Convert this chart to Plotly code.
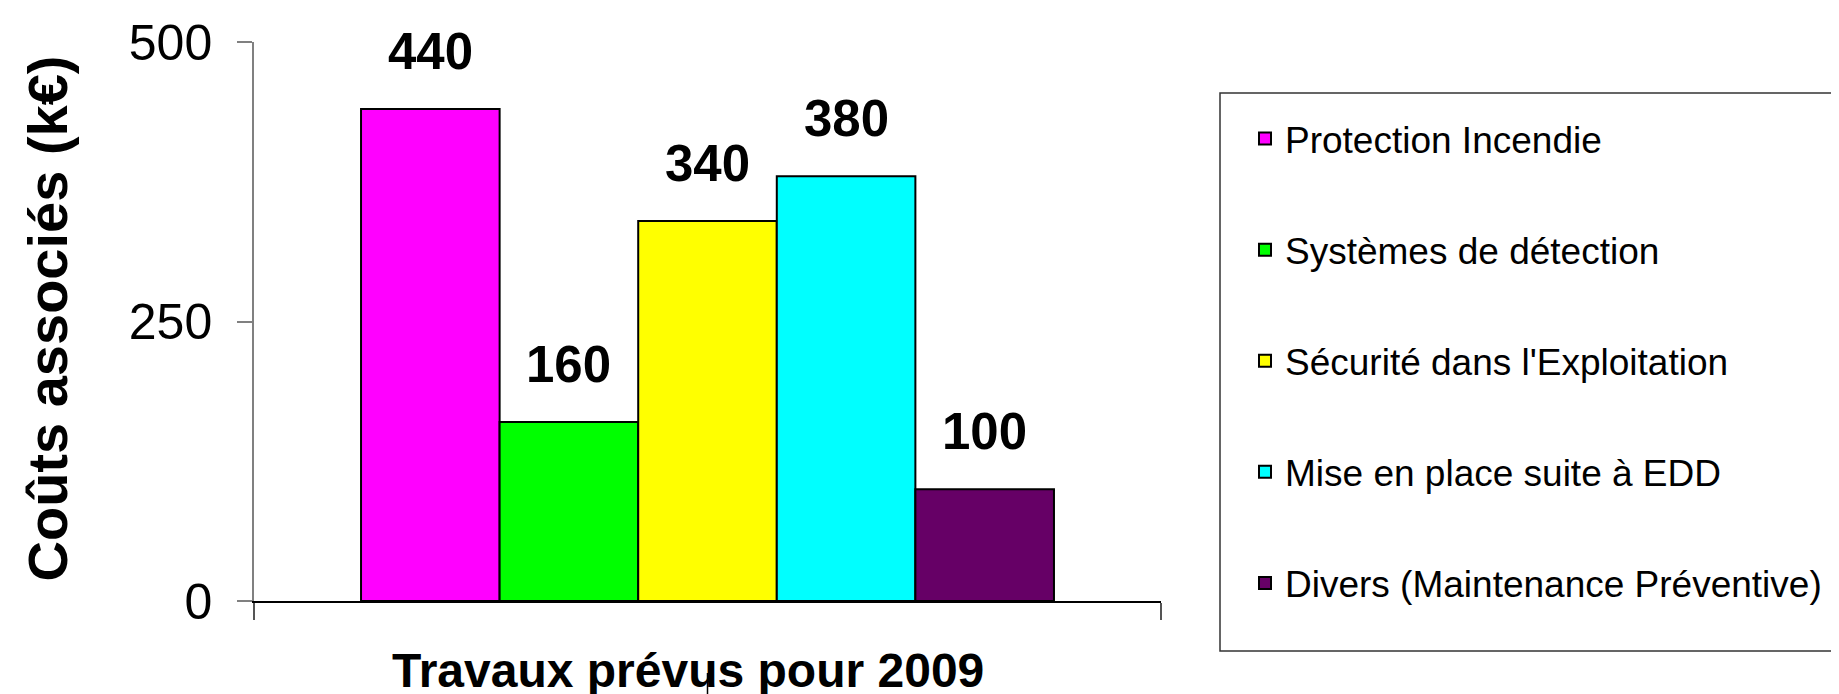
import plotly.graph_objects as go

categories = ["Travaux prévus pour 2009"]
series_names = [
    "Protection Incendie",
    "Systèmes de détection",
    "Sécurité dans l'Exploitation",
    "Mise en place suite à EDD",
    "Divers (Maintenance Préventive)",
]
series_values = [440, 160, 340, 380, 100]
series_colors = ["#FF00FF", "#00FF00", "#FFFF00", "#00FFFF", "#660066"]
y_ticks = [0, 250, 500]
y_title = "Coûts associés (k€)"
x_title = "Travaux prévus pour 2009"

FONT = "Liberation Sans, Arial, sans-serif"
W, H = 1839, 694
ML, MR, MT, MB = 246, 686, 34, 101
PW = W - ML - MR
PH = H - MT - MB
BARGAP = 0.236

fig = go.Figure()
for i, (name, val, col) in enumerate(zip(series_names, series_values, series_colors)):
    fig.add_trace(go.Bar(
        x=categories, y=[val], name=name, legendgroup=name,
        marker=dict(color=col, line=dict(color="black", width=2)),
    ))

# data labels above each bar (centred on each bar of the group)
n = len(series_values)
bw = (1 - BARGAP) / n
annotations = []
for i, val in enumerate(series_values):
    annotations.append(dict(
        x=(i - (n - 1) / 2) * bw, y=val, xref="x", yref="y",
        text=f"<b>{val}</b>", showarrow=False, yanchor="bottom", yshift=27,
        font=dict(family=FONT, size=51, color="black"),
    ))

# axis titles
annotations.append(dict(
    x=0, y=0.5, xref="paper", yref="paper", xshift=-207, yshift=3,
    text=f"<b>{y_title}</b>", textangle=-90, showarrow=False,
    xanchor="center", yanchor="middle",
    font=dict(family=FONT, size=56, color="black"),
))
annotations.append(dict(
    x=0.5, y=0, xref="paper", yref="paper", xshift=-20, yshift=-69,
    text=f"<b>{x_title}</b>", showarrow=False,
    xanchor="center", yanchor="middle",
    font=dict(family=FONT, size=48, color="black"),
))

shapes = [
    # legend frame
    dict(type="rect", xref="paper", yref="paper",
         x0=(1212 - ML) / PW, x1=(1845 - ML) / PW,
         y0=(MT + PH - 643) / PH, y1=(MT + PH - 85) / PH,
         line=dict(color="#333333", width=1.5), fillcolor="rgba(0,0,0,0)"),
    # category centre mark
    dict(type="line", xref="x", yref="paper", x0=0, x1=0,
         y0=(MT + PH - 665) / PH, y1=(MT + PH - 694) / PH,
         line=dict(color="black", width=1.5)),
]

fig.update_layout(
    width=W, height=H,
    margin=dict(l=ML, r=MR, t=MT, b=MB, autoexpand=False),
    paper_bgcolor="white", plot_bgcolor="white",
    barmode="group", bargap=BARGAP, bargroupgap=0,
    font=dict(family=FONT, color="black"),
    showlegend=True,
    legend=dict(
        x=(1237 - ML) / PW, y=(MT + PH - 100) / PH, xanchor="left", yanchor="top",
        font=dict(family=FONT, size=37, color="black"),
        bgcolor="rgba(0,0,0,0)", borderwidth=0,
        tracegroupgap=60, traceorder="grouped",
    ),
    annotations=annotations,
    shapes=shapes,
)
fig.update_xaxes(
    type="category", showticklabels=False, showgrid=False, zeroline=False,
    showline=True, linecolor="black", linewidth=1.5,
    ticks="outside", tickson="boundaries", ticklen=17, tickcolor="#555555", tickwidth=1.5,
    fixedrange=True,
)
fig.update_yaxes(
    range=[0, 500], tickvals=y_ticks, ticktext=[str(t) for t in y_ticks],
    showgrid=False, zeroline=False,
    showline=True, linecolor="#808080", linewidth=1.5,
    ticks="outside", ticklen=15, tickcolor="#808080", tickwidth=1.5,
    ticklabelstandoff=15,
    tickfont=dict(family=FONT, size=50, color="black"),
    fixedrange=True,
)

fig.write_html("out.html")
